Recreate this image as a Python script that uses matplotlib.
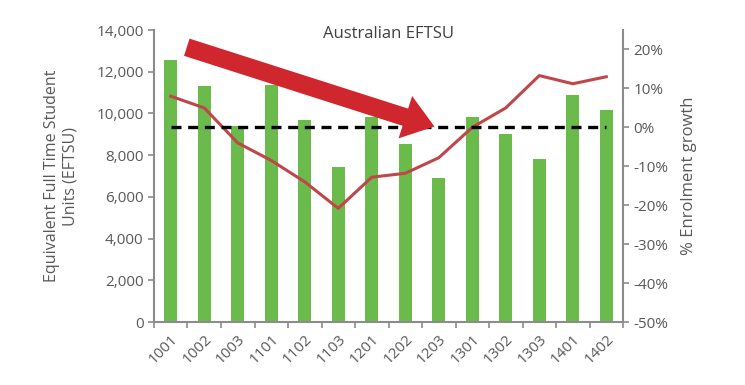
import matplotlib.pyplot as plt
import numpy as np
from matplotlib.ticker import FuncFormatter

quarters = ['1001', '1002', '1003', '1101', '1102', '1103', '1201',
            '1202', '1203', '1301', '1302', '1303', '1401', '1402']
eftsu = [12550, 11300, 9400, 11350, 9700, 7450, 9850,
         8550, 6900, 9830, 9000, 7800, 10880, 10160]
growth = [8.0, 5.0, -4.0, -8.5, -14.0, -20.8, -12.8,
          -11.8, -7.8, 0.0, 5.0, 13.3, 11.2, 13.0]

plt.rcParams['font.family'] = ['Open Sans', 'DejaVu Sans']
txt = '#595959'
spine = '#8c8c8c'

fig = plt.figure(figsize=(7.45, 3.85), dpi=100)
ax = fig.add_axes([0.2067, 0.1636, 0.6296, 0.7584])
x = np.arange(len(quarters))
ax.bar(x, eftsu, width=0.4, color='#6bbb4c', zorder=2)
ax.set_xlim(-0.5, len(quarters) - 0.5)
ax.set_ylim(0, 14000)
ax.set_yticks(range(0, 14001, 2000))
ax.yaxis.set_major_formatter(FuncFormatter(lambda v, p: f'{int(v):,}'))
ax.set_xticks(x)
ax.set_xticklabels(quarters, rotation=45, ha='right', rotation_mode='anchor')
ax.set_xticks(np.arange(-0.5, len(quarters), 1), minor=True)
ax.tick_params(axis='x', which='major', length=0, pad=7)
ax.tick_params(axis='x', which='minor', length=4, color=spine, width=1.2)
ax.tick_params(axis='y', length=4, color=spine, width=1.2)
ax.tick_params(labelsize=11, labelcolor=txt)
for s in ['top', 'right']:
    ax.spines[s].set_visible(False)
for s in ['left', 'bottom']:
    ax.spines[s].set_color(spine)
    ax.spines[s].set_linewidth(1.5)
ax.set_ylabel('Equivalent Full Time Student\nUnits (EFTSU)', fontsize=11.5,
              color=txt, labelpad=13)

ax2 = ax.twinx()
ax2.set_ylim(-50, 25)
ax2.set_yticks(range(-50, 21, 10))
ax2.yaxis.set_major_formatter(FuncFormatter(lambda v, p: f'{int(v)}%'))
ax2.plot(x, growth, color='#c0464a', lw=2.2, zorder=3)
ax2.plot([x[0], x[-1]], [0, 0], color='black', lw=2.4, ls=(0, (3, 2)), zorder=4)
ax2.tick_params(axis='y', length=4, color=spine, width=1.2, labelsize=11,
                labelcolor=txt)
for s in ['top', 'left', 'bottom']:
    ax2.spines[s].set_visible(False)
ax2.spines['right'].set_color(spine)
ax2.spines['right'].set_linewidth(1.5)
ax2.set_ylabel('% Enrolment growth', fontsize=12, color=txt, labelpad=9)

ax.text(0.5, 0.985, 'Australian EFTSU', transform=ax.transAxes, ha='center',
        va='center', fontsize=12, color='#404040')

# big red trend arrow
ax2.annotate('', xy=(7.95, 0.0), xytext=(0.4, 20.8),
             arrowprops=dict(arrowstyle='simple,head_length=1.1,head_width=1.6,tail_width=0.65',
                             color='#d0262e', lw=0, mutation_scale=20),
             zorder=5)

fig.savefig('out.png', dpi=100)
